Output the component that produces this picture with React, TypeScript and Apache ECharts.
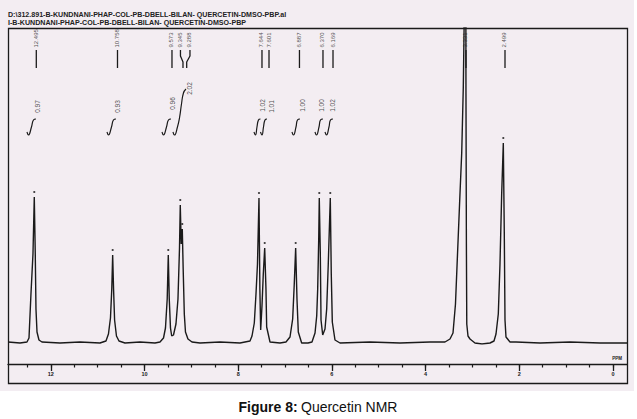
import React, { useEffect, useRef } from "react";
import * as echarts from "echarts";

// Spectrum trace: chemical shift (ppm) and intensity (arbitrary units)
const tracePpm = [
  12.913, 12.657, 12.508, 12.465, 12.423, 12.38, 12.352, 12.331, 12.316, 12.294, 12.252, 12.188, 11.804, 11.377,
  10.95, 10.822, 10.769, 10.726, 10.698, 10.679, 10.66, 10.638, 10.598, 10.544, 10.416, 10.096,
  9.776, 9.669, 9.594, 9.552, 9.515, 9.492, 9.471, 9.445, 9.419, 9.381, 9.328, 9.285, 9.253, 9.236, 9.216, 9.193,
  9.174, 9.15, 9.125, 9.072, 8.986, 8.815, 8.388,
  7.962, 7.748, 7.705, 7.656, 7.62, 7.588, 7.556, 7.537, 7.52, 7.492, 7.464, 7.434, 7.407, 7.392, 7.321, 7.108,
  6.98, 6.894, 6.837, 6.803, 6.773, 6.745, 6.717, 6.645, 6.51,
  6.425, 6.36, 6.324, 6.303, 6.281, 6.269, 6.247, 6.232, 6.196, 6.147, 6.111, 6.077, 6.034, 6.013, 5.991, 5.934,
  5.827, 5.187, 4.547, 3.906,
  3.586, 3.479, 3.415, 3.362, 3.315, 3.266, 3.229, 3.195, 3.174, 3.159, 3.142, 3.138, 3.129, 3.121, 3.095, 3.052,
  2.946, 2.796, 2.625,
  2.54, 2.497, 2.448, 2.412, 2.376, 2.341, 2.32, 2.305, 2.284, 2.198, 2.07, 1.558, 0.918, 0.277, -0.299,
];
const traceIntensity = [
  2, 1, 2, 6, 50, 90, 147, 90, 35, 12, 4, 2, 1, 2,
  1, 3, 10, 26, 55, 89, 55, 24, 8, 3, 1, 2,
  1, 2, 6, 16, 45, 89, 45, 16, 8, 9, 20, 45, 95, 139, 100, 115,
  75, 30, 12, 5, 2, 1, 2,
  1, 3, 8, 21, 50, 80, 146, 55, 14, 38, 70, 96, 55, 17, 2, 1,
  2, 7, 25, 60, 96, 45, 12, 1, 1,
  2, 11, 28, 55, 105, 146, 90, 24, 9, 15, 35, 80, 146, 70, 22, 4,
  1, 2, 1, 2,
  2, 5, 11, 40, 94, 150, 191, 257, 330, 400, 400, 250, 100, 20, 8, 5,
  1, 0, 1,
  3, 10, 30, 80, 150, 201, 110, 24, 7, 2, 2, 1, 2, 1, 1,
];

// Picked peaks (apex of each line, drawn with a small marker)
const pickedPpm = [12.352, 10.679, 9.492, 9.236, 9.193, 7.556, 7.434, 6.773, 6.269, 6.034, 2.341];
const pickedIntensity = [147, 89, 89, 139, 115, 146, 96, 96, 146, 146, 201];

// Peak labels printed at the top
const peakLabels = ["12.495", "10.758", "9.573", "9.345", "9.288", "7.644", "7.601", "6.887", "6.370", "6.169", "3.331", "2.499"];
const peakLabelPpm = [12.309, 10.576, 9.413, 9.232, 9.029, 7.492, 7.342, 6.692, 6.19, 5.976, 3.138, 2.305];
const peakLinePpm = [12.309, 10.576, 9.413, 9.178, 9.099, 7.492, 7.342, 6.692, 6.19, 5.976, 3.138, 2.305];

// Integral values and their curves
const integralValues = ["0.97", "0.93", "0.96", "2.02", "1.02", "1.01", "1.00", "1.00", "1.02"];
const integralLabelPpm = [12.273, 10.566, 9.392, 9.02, 7.471, 7.278, 6.617, 6.211, 5.976];
const integralLabelLevel = [237, 237, 240, 255, 238, 237, 238, 238, 238];
const integralCurvePpm = [
  [12.508, 12.476, 12.412, 12.369, 12.316],
  [10.8, 10.768, 10.704, 10.662, 10.608],
  [9.626, 9.594, 9.53, 9.488, 9.434],
  [9.392, 9.36, 9.296, 9.253, 9.21, 9.168, 9.114],
  [7.663, 7.631, 7.599, 7.567, 7.524],
  [7.524, 7.492, 7.46, 7.428, 7.385],
  [6.852, 6.82, 6.766, 6.734, 6.681],
  [6.361, 6.329, 6.275, 6.243, 6.19],
  [6.147, 6.115, 6.062, 6.03, 5.977],
];
const integralCurveLevel = [
  [212, 209, 217, 224, 225],
  [212, 209, 217, 224, 225],
  [212, 209, 217, 224, 225],
  [212, 209, 217, 226, 240, 251, 255],
  [212, 209, 217, 224, 225],
  [212, 209, 217, 224, 225],
  [212, 209, 217, 224, 225],
  [212, 209, 217, 224, 225],
  [212, 209, 217, 224, 225],
];

// Axis ticks (ppm)
const majorTicks = [0, 2, 4, 6, 8, 10, 12];
const minorTicks = [0, 0.5, 1, 1.5, 2, 2.5, 3, 3.5, 4, 4.5, 5, 5.5, 6, 6.5, 7, 7.5, 8, 8.5, 9, 9.5, 10, 10.5, 11, 11.5, 12, 12.5];

const headerLines = [
  "D:\\312.891-B-KUNDNANI-PHAP-COL-PB-DBELL-BILAN- QUERCETIN-DMSO-PBP.al",
  "I-B-KUNDNANI-PHAP-COL-PB-DBELL-BILAN- QUERCETIN-DMSO-PBP",
];

const INK = "#1a1a1a";
const FONT = "Liberation Sans, Arial, sans-serif";

export default function App() {
  const ref = useRef<HTMLDivElement>(null);

  useEffect(() => {
    if (!ref.current) return;
    const chart = echarts.init(ref.current, undefined, { renderer: "svg" });

    const series: any[] = [];
    series.push({
      type: "line",
      data: tracePpm.map((p, i) => [p, traceIntensity[i]]),
      symbol: "none",
      clip: true,
      silent: true,
      lineStyle: { color: INK, width: 1.4 },
    });
    series.push({
      type: "scatter",
      data: pickedPpm.map((p, i) => [p, pickedIntensity[i]]),
      symbol: "circle",
      symbolSize: 2.2,
      symbolOffset: [0, -5],
      silent: true,
      itemStyle: { color: INK },
    });
    // connectors from labels to peaks
    peakLabelPpm.forEach((p, i) => {
      series.push({
        type: "line",
        data: [
          [p, 294],
          [p, 288],
          [peakLinePpm[i], 282],
          [peakLinePpm[i], 276],
        ],
        symbol: "none",
        silent: true,
        lineStyle: { color: INK, width: 1.3 },
      });
    });
    series.push({
      type: "scatter",
      data: peakLabels.map((t, i) => ({ name: t, value: [peakLabelPpm[i], 296] })),
      symbolSize: 1,
      silent: true,
      itemStyle: { color: "transparent" },
      label: {
        show: true,
        formatter: "{b}",
        position: [0, 0],
        rotate: 90,
        align: "left",
        verticalAlign: "middle",
        fontSize: 6,
        fontFamily: FONT,
        color: "#1e1e1e",
      },
    });
    // integrals
    integralCurvePpm.forEach((ppms, i) => {
      series.push({
        type: "line",
        data: ppms.map((p, j) => [p, integralCurveLevel[i][j]]),
        symbol: "none",
        smooth: true,
        silent: true,
        lineStyle: { color: INK, width: 1.2 },
      });
    });
    series.push({
      type: "scatter",
      data: integralValues.map((t, i) => ({ name: t, value: [integralLabelPpm[i], integralLabelLevel[i]] })),
      symbolSize: 1,
      silent: true,
      itemStyle: { color: "transparent" },
      label: {
        show: true,
        formatter: "{b}",
        position: [0, 0],
        rotate: 90,
        align: "center",
        verticalAlign: "middle",
        fontSize: 6.5,
        fontFamily: FONT,
        color: "#1e1e1e",
      },
    });

    const option: any = {
      animation: false,
      backgroundColor: "#ffffff",
      grid: { left: 8, right: 10, top: 28, bottom: 75, containLabel: false },
      xAxis: [
        {
          type: "value",
          inverse: true,
          min: -0.299,
          max: 12.913,
          position: "bottom",
          offset: 20,
          axisLine: { show: true, onZero: false, lineStyle: { color: INK, width: 1.4 } },
          axisTick: { show: true, customValues: minorTicks, length: 3.5, inside: false, lineStyle: { color: INK, width: 1.2 } },
          axisLabel: { show: false },
          splitLine: { show: false },
        },
        {
          type: "value",
          inverse: true,
          min: -0.299,
          max: 12.913,
          position: "bottom",
          offset: 20,
          axisLine: { show: false, onZero: false },
          axisTick: { show: true, customValues: majorTicks, length: 7, lineStyle: { color: INK, width: 1.3 } },
          axisLabel: {
            show: true,
            customValues: majorTicks,
            fontSize: 5.5,
            fontWeight: "bold",
            color: INK,
            margin: 7,
            fontFamily: FONT,
          },
          splitLine: { show: false },
        },
      ],
      yAxis: { type: "value", min: 0, max: 316, show: false },
      graphic: [
        { type: "rect", shape: { x: 0, y: 0, width: 634, height: 391 }, style: { fill: "#f3edf2" }, z: -10, silent: true },
        { type: "rect", shape: { x: 8.5, y: 28.5, width: 619, height: 355 }, style: { fill: "none", stroke: INK, lineWidth: 1.3 }, z: 10, silent: true },
        {
          type: "text",
          x: 8,
          y: 15,
          style: { text: headerLines[0], fontSize: 7.1, fontWeight: "bold", fill: "#222", fontFamily: FONT, verticalAlign: "middle" },
          silent: true,
        },
        {
          type: "text",
          x: 8,
          y: 23,
          style: { text: headerLines[1], fontSize: 7.1, fontWeight: "bold", fill: "#222", fontFamily: FONT, verticalAlign: "middle" },
          silent: true,
        },
        {
          type: "text",
          x: 622,
          y: 361,
          style: { text: "PPM", fontSize: 4.5, fontWeight: "bold", fill: INK, align: "right", verticalAlign: "bottom", fontFamily: FONT },
          silent: true,
        },
        {
          type: "text",
          x: 318,
          y: 407,
          style: {
            text: "{b|Figure 8:} {r|Quercetin NMR}",
            align: "center",
            verticalAlign: "middle",
            rich: {
              b: { fontSize: 14, fontWeight: "bold", fill: "#111", fontFamily: FONT },
              r: { fontSize: 14, fill: "#111", fontFamily: FONT },
            },
          },
          silent: true,
        },
      ],
      series,
    };

    chart.setOption(option);
    return () => chart.dispose();
  }, []);

  return (
    <div
      ref={ref}
      style={{ position: "fixed", left: 0, top: 0, width: 637, height: 419, background: "#ffffff" }}
    />
  );
}
